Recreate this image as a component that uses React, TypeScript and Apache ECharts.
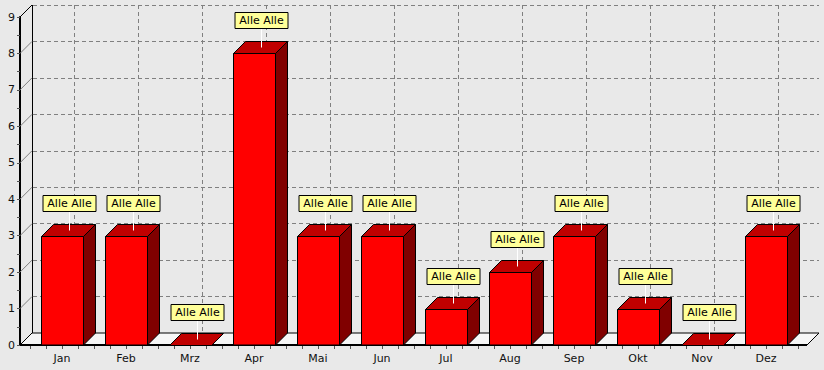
import React, { useEffect, useRef } from "react";
import * as echarts from "echarts";

const months = ["Jan", "Feb", "Mrz", "Apr", "Mai", "Jun", "Jul", "Aug", "Sep", "Okt", "Nov", "Dez"];
const counts = [3, 3, 0, 8, 3, 3, 1, 2, 3, 1, 0, 3];
const barLabels = ["Alle Alle", "Alle Alle", "Alle Alle", "Alle Alle", "Alle Alle", "Alle Alle", "Alle Alle", "Alle Alle", "Alle Alle", "Alle Alle", "Alle Alle", "Alle Alle"];
const yMax = 9;

const W = 824;
const H = 370;
const DEPTH = 12;
const FRONT_LEFT = 30;
const CAT_W = 64;
const FRONT_RIGHT = W - (FRONT_LEFT + CAT_W * months.length);
const FRONT_TOP = 17;
const FRONT_BOTTOM = 25;
const EXT_L = 10;
const EXT_R = 9;
const FONT = "DejaVu Sans";

export default function App() {
  const ref = useRef<HTMLDivElement>(null);
  useEffect(() => {
    const chart = echarts.init(ref.current!, null, { renderer: "svg" });
    const hidden = { axisLine: { show: false }, axisTick: { show: false }, axisLabel: { show: false } };
    const dashed = { show: true, lineStyle: { color: "#808080", type: [4, 3], width: 1 } };
    const option: any = {
      animation: false,
      backgroundColor: "#e9e9e9",
      grid: [
        { left: FRONT_LEFT, right: FRONT_RIGHT, top: FRONT_TOP, bottom: FRONT_BOTTOM },
        { left: FRONT_LEFT - EXT_L + DEPTH + 1, right: FRONT_RIGHT - EXT_R - DEPTH, top: FRONT_TOP - DEPTH, bottom: FRONT_BOTTOM + DEPTH },
        { left: FRONT_LEFT + CAT_W / 2 + DEPTH, right: FRONT_RIGHT + CAT_W / 2 - DEPTH, top: FRONT_TOP - DEPTH, bottom: FRONT_BOTTOM + DEPTH },
      ],
      xAxis: [
        {
          gridIndex: 0, type: "value", min: -0.5, max: months.length - 0.5, interval: 0.25,
          axisLine: { show: false, onZero: false },
          axisTick: { show: true, length: 4, lineStyle: { color: "#555" } },
          axisLabel: {
            margin: 8, color: "#111", fontFamily: FONT, fontSize: 11, showMinLabel: true, showMaxLabel: true,
            formatter: (v: number) => (Number.isInteger(v) && v >= 0 && v < months.length ? months[v] : ""),
          },
          splitLine: { show: false },
        },
        { gridIndex: 1, type: "value", min: 0, max: 1, ...hidden, splitLine: { show: false } },
        { gridIndex: 2, type: "value", min: 0, max: months.length - 1, interval: 1, ...hidden, splitLine: dashed },
      ],
      yAxis: [
        {
          gridIndex: 0, type: "value", min: 0, max: yMax, interval: 0.5, offset: EXT_L,
          axisLine: { show: true, onZero: false, lineStyle: { color: "#000", width: 2 } },
          axisTick: { show: true, length: 3, lineStyle: { color: "#555" } },
          axisLabel: {
            margin: 5, color: "#111", fontFamily: FONT, fontSize: 11,
            formatter: (v: number) => (Number.isInteger(v) ? String(v) : ""),
          },
          splitLine: { show: false },
        },
        { gridIndex: 1, type: "value", min: 0, max: yMax, interval: 1, ...hidden, splitLine: dashed },
        { gridIndex: 2, type: "value", min: 0, max: yMax, ...hidden, splitLine: { show: false } },
      ],
      series: [
        {
          type: "custom",
          xAxisIndex: 0,
          yAxisIndex: 0,
          z: 1,
          data: [[0]],
          renderItem: (params: any, api: any) => {
            const fl = api.coord([-0.5, 0]);
            const fr = api.coord([months.length - 0.5, 0]);
            const y0 = fl[1];
            const xl = fl[0] - EXT_L;
            const xr = fr[0] + EXT_R;
            const d = DEPTH;
            const children: any[] = [];
            children.push({
              type: "polygon",
              shape: { points: [[xl, y0], [xr, y0], [xr + d, y0 - d], [xl + d, y0 - d]] },
              style: { fill: "#f6f6f6", stroke: "#000", lineWidth: 1 },
            });
            const yTop = api.coord([0, yMax])[1];
            children.push({
              type: "line",
              shape: { x1: xl + d + 0.5, y1: y0 - d, x2: xl + d + 0.5, y2: yTop - d },
              style: { stroke: "#000", lineWidth: 1 },
            });
            for (let v = 1; v <= yMax; v++) {
              const y = api.coord([0, v])[1];
              children.push({
                type: "line",
                shape: { x1: xl, y1: y, x2: xl + d, y2: y - d },
                style: { stroke: v === yMax ? "#000" : "#808080", lineWidth: 1 },
              });
            }
            children.push({
              type: "line",
              shape: { x1: xl, y1: y0, x2: xr, y2: y0 },
              style: { stroke: "#000", lineWidth: 2 },
            });
            return { type: "group", children };
          },
        },
        {
          type: "custom",
          xAxisIndex: 0,
          yAxisIndex: 0,
          z: 2,
          data: counts.map((v, i) => [i, v, barLabels[i]]),
          renderItem: (params: any, api: any) => {
            const i = api.value(0);
            const v = api.value(1);
            const label = barLabels[params.dataIndex];
            const top = api.coord([i, v]);
            const bot = api.coord([i, 0]);
            const w = api.size([1, 0])[0] * 0.656;
            const d = DEPTH;
            const l = Math.round(top[0] - w / 2) + 0.5;
            const r = l + Math.round(w);
            const ty = Math.round(top[1]) + 0.5;
            const by = Math.round(bot[1]);
            const children: any[] = [];
            const stroke = { stroke: "#000", lineWidth: 1 };
            if (v > 0) {
              children.push({
                type: "rect",
                shape: { x: l, y: ty, width: r - l, height: by - ty },
                style: { fill: "#ff0000", ...stroke },
              });
              children.push({
                type: "polygon",
                shape: { points: [[r, ty], [r + d, ty - d], [r + d, by - d], [r, by]] },
                style: { fill: "#800000", ...stroke },
              });
            }
            children.push({
              type: "polygon",
              shape: { points: [[l, ty], [l + d, ty - d], [r + d, ty - d], [r, ty]] },
              style: { fill: "#c00000", ...stroke },
            });
            const cx = Math.round((l + r + d) / 2) + 0.5;
            const boxH = 16;
            const boxW = 53;
            const boxBottom = ty - 25;
            children.push({
              type: "line",
              shape: { x1: cx, y1: ty - 6, x2: cx, y2: boxBottom },
              style: { stroke: "#ffffff", lineWidth: 1 },
            });
            children.push({
              type: "rect",
              shape: { x: Math.round(cx - boxW / 2), y: boxBottom - boxH, width: boxW, height: boxH },
              style: { fill: "#ffff99", ...stroke },
            });
            children.push({
              type: "text",
              style: {
                x: cx, y: boxBottom - boxH / 2, text: label, align: "center", verticalAlign: "middle",
                fill: "#000", fontFamily: FONT, fontSize: 11,
              },
            });
            return { type: "group", children };
          },
        },
      ],
    };
    chart.setOption(option);
    return () => chart.dispose();
  }, []);
  return <div ref={ref} style={{ position: "absolute", left: 0, top: 0, width: W, height: H }} />;
}
